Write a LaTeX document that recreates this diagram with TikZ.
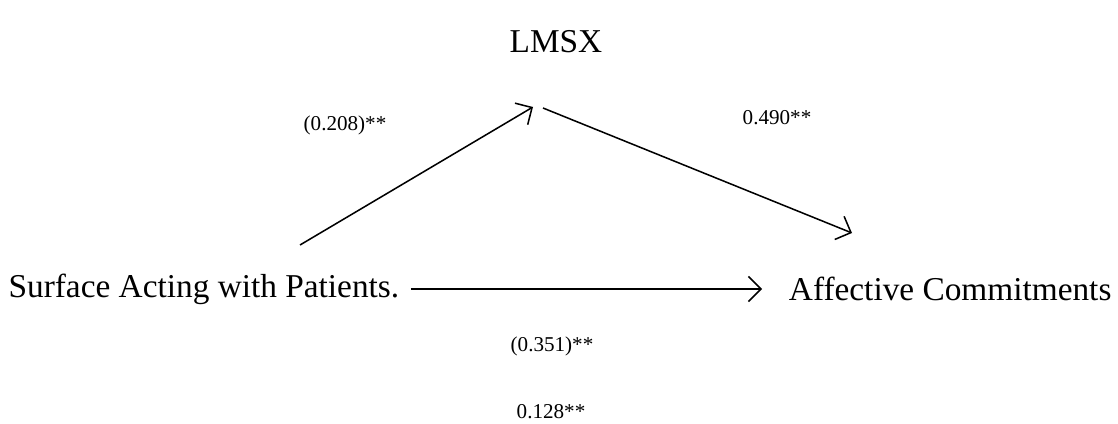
\documentclass[tikz,border=0pt]{standalone}
\usepackage{fontspec}
\setmainfont{Liberation Serif}
\usepackage{tikz}
\usetikzlibrary{arrows.meta, positioning}

\begin{document}
\begin{tikzpicture}[x=0.36pt, y=-0.36pt,
    var/.style={inner sep=0pt, font=\fontsize{12}{14}\selectfont},
    coef/.style={inner sep=0pt, font=\fontsize{7.6}{9}\selectfont},
    path/.style={-{Straight Barb[length=4.5pt, width=9pt]}, line width=0.55pt},
]
  \useasboundingbox (0,0) rectangle (1118,424);

  \node[var] (lmsx) at (556,42) {LMSX};
  \node[var, anchor=west] (surface) at (8,289) {Surface Acting with Patients.};
  \node[var, anchor=east] (affective) at (1112,289) {Affective Commitments};

  % ends of the two paths through LMSX
  \coordinate (aStart) at (300,245);
  \coordinate (aEnd) at (533,107);
  \coordinate (bStart) at (543,108);
  \coordinate (bEnd) at (852,233);

  \draw[path] (aStart) -- (aEnd);
  \draw[path] (bStart) -- (bEnd);
  \draw[path, shorten <=4pt, shorten >=9.5pt] (surface.east) -- (affective.west);

  \node[coef] (pathA) at (345,125) {(0.208)**};
  \node[coef] (pathB) at (777,118) {0.490**};
  \node[coef] (total) at (552,346) {(0.351)**};
  \node[coef] (direct) at (551,412) {0.128**};
\end{tikzpicture}
\end{document}
